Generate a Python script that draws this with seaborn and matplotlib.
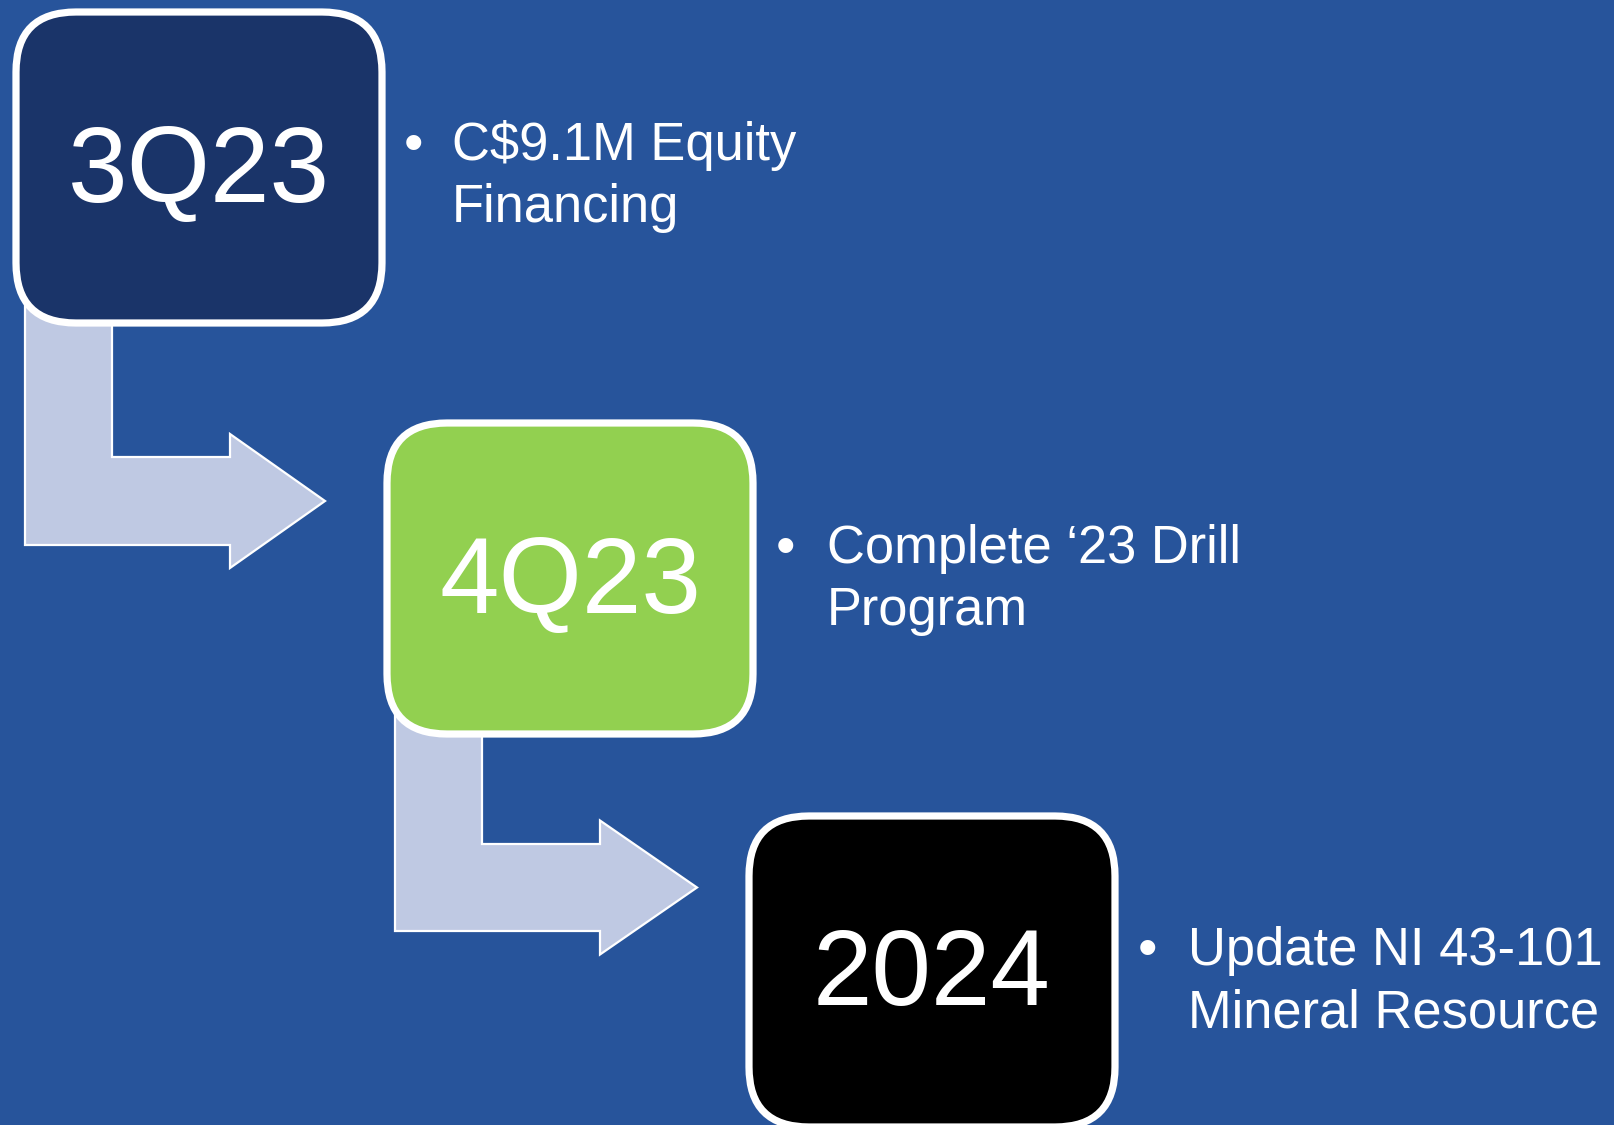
import matplotlib
matplotlib.use("Agg")
import matplotlib.pyplot as plt
from matplotlib.patches import FancyBboxPatch, Polygon
import seaborn as sns

# milestone content
labels = ["3Q23", "4Q23", "2024"]
notes = [
    ["C$9.1M Equity", "Financing"],
    ["Complete \u201823 Drill", "Program"],
    ["Update NI 43-101", "Mineral Resource"],
]

# styling
bg_color = "#27549B"
box_colors = ["#1A3469", "#92D050", "#000000"]
arrow_color = "#BFC9E3"

# layout in pixel coordinates (y grows downward)
box_left = [16, 387, 749]
box_top = [12, 423, 816]
box_w, box_h = 366, 311
label_baseline = [202, 613, 1005]
note_x = [452, 827, 1188]
note_baseline = [160, 563, 965]
bullet_x = [413, 785, 1148]
line_gap = 62

# bent arrows: left, arm right, arm top, arm bottom, head base, tip, head half height
arrows = [
    (25, 112, 457, 545, 230, 325, 67),
    (395, 482, 844, 931, 600, 697, 67),
]

sns.set_style("white")
plt.rcParams["font.family"] = ["Liberation Sans", "DejaVu Sans"]

fig = plt.figure(figsize=(16.14, 11.25), dpi=100)
fig.patch.set_facecolor(bg_color)
ax = fig.add_axes([0, 0, 1, 1])
ax.set_facecolor(bg_color)
ax.set_xlim(0, 1614)
ax.set_ylim(1125, 0)
ax.axis("off")

for i, (l, r, ht, hb, hx, tx, hh) in enumerate(arrows):
    top = box_top[i] + box_h / 2
    ty = (ht + hb) / 2
    pts = [(l, top), (r, top), (r, ht), (hx, ht), (hx, ty - hh), (tx, ty),
           (hx, ty + hh), (hx, hb), (l, hb)]
    ax.add_patch(Polygon(pts, closed=True, facecolor=arrow_color,
                         edgecolor="white", linewidth=1.6, zorder=1))

for i, lab in enumerate(labels):
    box = FancyBboxPatch((box_left[i], box_top[i]), box_w, box_h,
                         boxstyle="round,pad=0,rounding_size=60",
                         facecolor=box_colors[i], edgecolor="white",
                         linewidth=5.2, zorder=2)
    ax.add_patch(box)
    ax.text(box_left[i] + box_w / 2, label_baseline[i], lab, color="white",
            fontsize=77, ha="center", va="baseline", zorder=3)

    ax.text(bullet_x[i], note_baseline[i] - 13, "\u2022", color="white",
            fontsize=40, ha="center", va="center", zorder=3)
    for j, line in enumerate(notes[i]):
        ax.text(note_x[i], note_baseline[i] + j * line_gap, line, color="white",
                fontsize=37.8, ha="left", va="baseline", zorder=3)

fig.savefig("out.png", dpi=100, facecolor=bg_color)
